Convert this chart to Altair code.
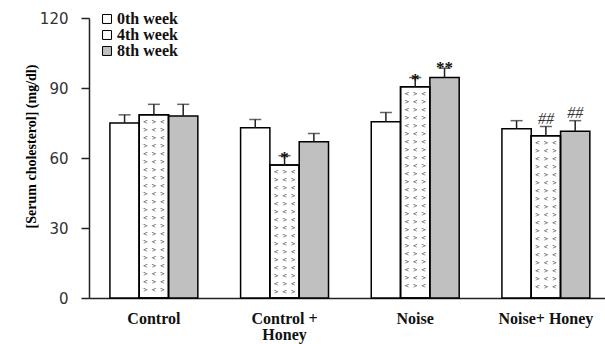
import altair as alt
import pandas as pd

# Groups, time points and measured serum cholesterol (mean and error, mg/dl)
groups = ["Control", "Control +\nHoney", "Noise", "Noise+ Honey"]
weeks = ["0th week", "4th week", "8th week"]
mean_0 = [75.0, 73.0, 75.5, 72.5]
mean_4 = [78.5, 57.0, 90.5, 69.5]
mean_8 = [78.0, 67.0, 94.5, 71.5]
err_0 = [3.5, 3.5, 4.0, 3.5]
err_4 = [4.5, 4.0, 4.0, 4.0]
err_8 = [5.0, 3.5, 4.0, 4.5]
sig_0 = ["", "", "", ""]
sig_4 = ["", "*", "*", "##"]
sig_8 = ["", "", "**", "##"]

rows = []
for w, means, errs, sigs in zip(weeks, [mean_0, mean_4, mean_8],
                                [err_0, err_4, err_8], [sig_0, sig_4, sig_8]):
    for g, m, e, s in zip(groups, means, errs, sigs):
        rows.append({"group": g, "week": w, "mean": m, "err": e,
                     "top": m + e, "sig": s})
df = pd.DataFrame(rows)

# hatch-like "< >" glyph pattern for the 4th week bars, one text line per ~8 px
PX_PER_UNIT = 280 / 120
def pattern(v):
    n = int((v * PX_PER_UNIT - 5) / 8)
    return "\n".join("> < >" if i % 2 else "< > <" for i in range(n))
df["pat"] = [pattern(m) if w == "4th week" else "" for w, m in zip(df["week"], df["mean"])]

FONT = "Liberation Serif"

x = alt.X("group:N", sort=groups, title=None,
          scale=alt.Scale(paddingInner=0.327, paddingOuter=0.138, align=0.58),
          axis=alt.Axis(labelExpr="split(datum.label, '\\n')", labelAngle=0,
                        labelFont=FONT, labelFontWeight="bold", labelFontSize=16,
                        labelColor="#111", labelPadding=12, labelLineHeight=16,
                        ticks=False, domainColor="#222", domainWidth=1.5))
xo = alt.XOffset("week:N", sort=weeks, scale=alt.Scale(paddingInner=0, paddingOuter=0))
yscale = alt.Scale(domain=[0, 120], nice=False)

base = alt.Chart(df)

bars = base.mark_bar(stroke="black", strokeWidth=1.5).encode(
    x=x, xOffset=xo,
    y=alt.Y("mean:Q", scale=yscale,
            title="[Serum cholesterol] (mg/dl)",
            axis=alt.Axis(values=[0, 30, 60, 90, 120], grid=False,
                          tickSize=8, tickColor="#222", tickWidth=1.5,
                          domainColor="#222", domainWidth=1.5,
                          labelFont="DejaVu Sans", labelFontSize=15,
                          labelColor="#333", labelPadding=13,
                          titleFont=FONT, titleFontWeight="bold", titleFontSize=14,
                          titleColor="black", titleX=-58, titleY=128,
                          titleAlign="center", titleBaseline="middle")),
    fill=alt.Fill("week:N", sort=weeks,
                  scale=alt.Scale(domain=weeks, range=["white", "white", "#c0c0c0"]),
                  legend=alt.Legend(title=None, orient="none", legendX=10, legendY=-7,
                                    symbolType="square", symbolSize=80,
                                    symbolStrokeColor="black", symbolStrokeWidth=1,
                                    labelFont=FONT, labelFontWeight="bold",
                                    labelFontSize=16, labelColor="#111",
                                    labelOffset=2, rowPadding=-1)),
)

# glyph rows start just under the bar top and run down to the baseline
hatch = base.transform_filter(alt.datum.pat != "").mark_text(
    font="DejaVu Sans Mono", fontSize=7, color="#444", baseline="top",
    lineHeight=8, lineBreak="\n", dy=3, align="center"
).encode(x=x, xOffset=xo, y=alt.Y("mean:Q", scale=yscale),
         text=alt.Text("pat:N"))

outline = base.transform_filter(alt.datum.week == "4th week").mark_bar(
    fillOpacity=0, stroke="black", strokeWidth=1.5
).encode(x=x, xOffset=xo, y=alt.Y("mean:Q", scale=yscale))

errs = base.mark_rule(color="#222", strokeWidth=1.5).encode(
    x=x, xOffset=xo, y=alt.Y("mean:Q", scale=yscale), y2="top:Q")
caps = base.mark_tick(color="#222", thickness=1.5, size=12, orient="horizontal").encode(
    x=x, xOffset=xo, y=alt.Y("top:Q", scale=yscale))

stars = base.transform_filter(alt.datum.sig == "*").mark_text(
    font=FONT, fontSize=17, fontWeight="bold", color="#111", baseline="alphabetic", dy=7
).encode(x=x, xOffset=xo, y=alt.Y("top:Q", scale=yscale), text="sig:N")
stars2 = base.transform_filter(alt.datum.sig == "**").mark_text(
    font=FONT, fontSize=17, fontWeight="bold", color="#111", baseline="alphabetic", dy=5
).encode(x=x, xOffset=xo, y=alt.Y("top:Q", scale=yscale), text="sig:N")
hashes = base.transform_filter(alt.datum.sig == "##").mark_text(
    font=FONT, fontSize=16, fontStyle="italic", color="#333", baseline="alphabetic", dy=-3
).encode(x=x, xOffset=xo, y=alt.Y("top:Q", scale=yscale), text="sig:N")

chart = alt.layer(bars, hatch, outline, errs, caps, stars, stars2, hashes).properties(
    width=516, height=280,
    autosize=alt.AutoSizeParams(type="none"),
    padding={"left": 89, "top": 18, "right": 0, "bottom": 46},
    background="white",
).configure_view(stroke=None)

chart.save("out.html", embed_options={"renderer": "svg", "actions": False})
